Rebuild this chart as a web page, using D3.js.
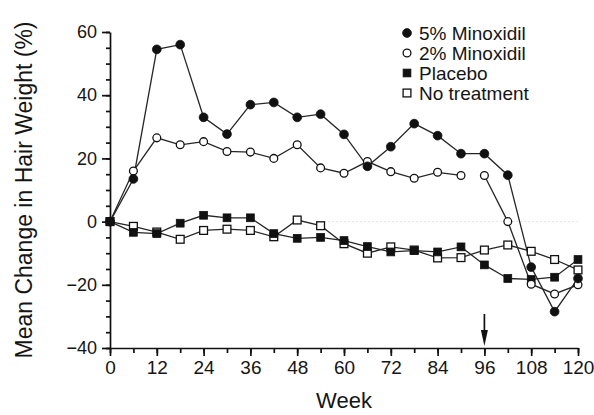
<!DOCTYPE html>
<html lang="en">
<head>
  <meta charset="UTF-8" />
  <title>Mean Change in Hair Weight</title>
  <style>
    body { margin: 0; background: #fff; }
    svg { display: block; font-family: 'Liberation Sans', Arial, sans-serif; }
    .axis path, .axis line { stroke: #111; stroke-width: 1.7px; }
    .axis text { fill: #151515; }
    .series-line { fill: none; stroke: #262626; stroke-width: 1.3px; }
  </style>
</head>
<body>
  <svg id="chart" width="594" height="415"></svg>

  <script src="https://d3js.org/d3.v7.min.js"></script>
  <script>
    // weeks of measurement
    const weeks = [0, 6, 12, 18, 24, 30, 36, 42, 48, 54, 60, 66, 72, 78, 84, 90, 96, 102, 108, 114, 120];

    const minox5 = [0, 13.5, 54.5, 56, 33, 27.7, 37, 37.7, 33, 34, 27.6, 17.5, 23.7, 31, 27.2, 21.5, 21.5, 14.7, -14.4, -28.5, -18];
    const minox2 = [0, 16, 26.5, 24.3, 25.3, 22.2, 22, 20, 24.3, 17, 15.3, 19, 15.8, 13.7, 15.6, 14.6, 14.6, 0, -19.8, -22.9, -20];
    const placebo = [0, -3.4, -3.8, -0.5, 2, 1.2, 1.2, -3.8, -5.3, -5, -6, -7.9, -9.6, -9.2, -9.6, -8, -13.7, -18, -18.3, -17.6, -12];
    const noTreatment = [0, -1.5, -3.3, -5.6, -2.8, -2.4, -2.8, -4.8, 0.5, -1.3, -7, -10, -8, -9, -11.5, -11.4, -9, -7.4, -9.4, -12, -15.3];

    const seriesNames = ["5% Minoxidil", "2% Minoxidil", "Placebo", "No treatment"];
    // the 2% line is not drawn between week 90 and week 96
    const lineBreakAfter = [null, 90, null, null];

    const xTickLabels = [0, 12, 24, 36, 48, 60, 72, 84, 96, 108, 120];
    const yTickLabels = [-40, -20, 0, 20, 40, 60];
    const arrowWeek = 96;

    const svg = d3.select("#chart");

    const x = d3.scaleLinear().domain([0, 120]).range([110, 578]);
    const y = d3.scaleLinear().domain([-40, 60]).range([348, 32]);

    // faint dotted line at zero on the right half
    svg.append("line")
      .attr("x1", x(54)).attr("x2", x(120))
      .attr("y1", y(0)).attr("y2", y(0))
      .attr("stroke", "#c8c8c8").attr("stroke-width", 1)
      .attr("stroke-dasharray", "1,3");

    // y axis: minor ticks every 5, labelled ticks every 20
    svg.append("g").attr("class", "axis")
      .attr("transform", `translate(${x(0)},0)`)
      .call(d3.axisLeft(y).tickValues(d3.range(-40, 61, 5)).tickSize(4).tickSizeOuter(0).tickFormat(""));
    const yAxis = svg.append("g").attr("class", "axis")
      .attr("transform", `translate(${x(0)},0)`)
      .call(d3.axisLeft(y).tickValues(yTickLabels).tickSize(8).tickSizeOuter(0).tickPadding(5));
    yAxis.select(".domain").remove();
    yAxis.selectAll("text").attr("font-size", 18);

    // x axis: minor ticks every 6 weeks, labels every 12
    svg.append("g").attr("class", "axis")
      .attr("transform", `translate(0,${y(-40)})`)
      .call(d3.axisBottom(x).tickValues(weeks).tickSize(5).tickSizeOuter(0).tickFormat(""));
    const xAxis = svg.append("g").attr("class", "axis")
      .attr("transform", `translate(0,${y(-40)})`)
      .call(d3.axisBottom(x).tickValues(xTickLabels).tickSize(8).tickSizeOuter(0).tickPadding(5));
    xAxis.select(".domain").remove();
    xAxis.selectAll("text").attr("font-size", 19);

    svg.selectAll(".axis .tick text").attr("font-family", "'Liberation Sans', Arial, sans-serif");

    // axis titles
    svg.append("text")
      .attr("x", (x(0) + x(120)) / 2).attr("y", 408)
      .attr("text-anchor", "middle").attr("font-size", 22).attr("fill", "#151515")
      .text("Week");
    svg.append("text")
      .attr("transform", `translate(32,${(13 + 367) / 2}) rotate(-90)`)
      .attr("text-anchor", "middle").attr("font-size", 23).attr("fill", "#151515")
      .text("Mean Change in Hair Weight (%)");

    // arrow marking week 96
    const ax = x(arrowWeek);
    svg.append("line")
      .attr("x1", ax).attr("x2", ax).attr("y1", 314).attr("y2", 334)
      .attr("stroke", "#111").attr("stroke-width", 1.7);
    svg.append("path")
      .attr("d", `M${ax - 3.5},330 L${ax + 3.5},330 L${ax},346 Z`)
      .attr("fill", "#111");

    // series
    const values = [minox5, minox2, placebo, noTreatment];
    const markers = [
      { shape: "circle", filled: true },
      { shape: "circle", filled: false },
      { shape: "square", filled: true },
      { shape: "square", filled: false }
    ];

    const line = d3.line().x(d => x(d.week)).y(d => y(d.value));

    const series = seriesNames.map((name, i) => ({
      name,
      marker: markers[i],
      points: weeks.map((w, j) => ({ week: w, value: values[i][j] })),
      breakAfter: lineBreakAfter[i]
    }));

    // draw lines first, then markers on top
    series.forEach(s => {
      const runs = s.breakAfter == null
        ? [s.points]
        : [s.points.filter(p => p.week <= s.breakAfter), s.points.filter(p => p.week > s.breakAfter)];
      runs.forEach(run => {
        svg.append("path").attr("class", "series-line").attr("d", line(run));
      });
    });

    function drawMarker(g, m, cx, cy) {
      if (m.shape === "circle") {
        g.append("circle")
          .attr("cx", cx).attr("cy", cy).attr("r", m.filled ? 4.4 : 3.9)
          .attr("fill", m.filled ? "#111" : "#fff")
          .attr("stroke", "#111").attr("stroke-width", m.filled ? 0.8 : 1.3);
      } else {
        const s = 7.8;
        g.append("rect")
          .attr("x", cx - s / 2).attr("y", cy - s / 2).attr("width", s).attr("height", s)
          .attr("fill", m.filled ? "#111" : "#fff")
          .attr("stroke", "#111").attr("stroke-width", m.filled ? 0.8 : 1.3);
      }
    }

    const markerLayer = svg.append("g");
    series.slice().reverse().forEach(s => {
      s.points.forEach(p => drawMarker(markerLayer, s.marker, x(p.week), y(p.value)));
    });

    // legend
    const legend = svg.append("g");
    series.forEach((s, i) => {
      const ly = 33 + i * 20;
      drawMarker(legend, s.marker, 407, ly);
      legend.append("text")
        .attr("x", 419).attr("y", ly).attr("dy", "0.36em")
        .attr("font-size", 19).attr("fill", "#151515")
        .text(s.name);
    });
  </script>
</body>
</html>
